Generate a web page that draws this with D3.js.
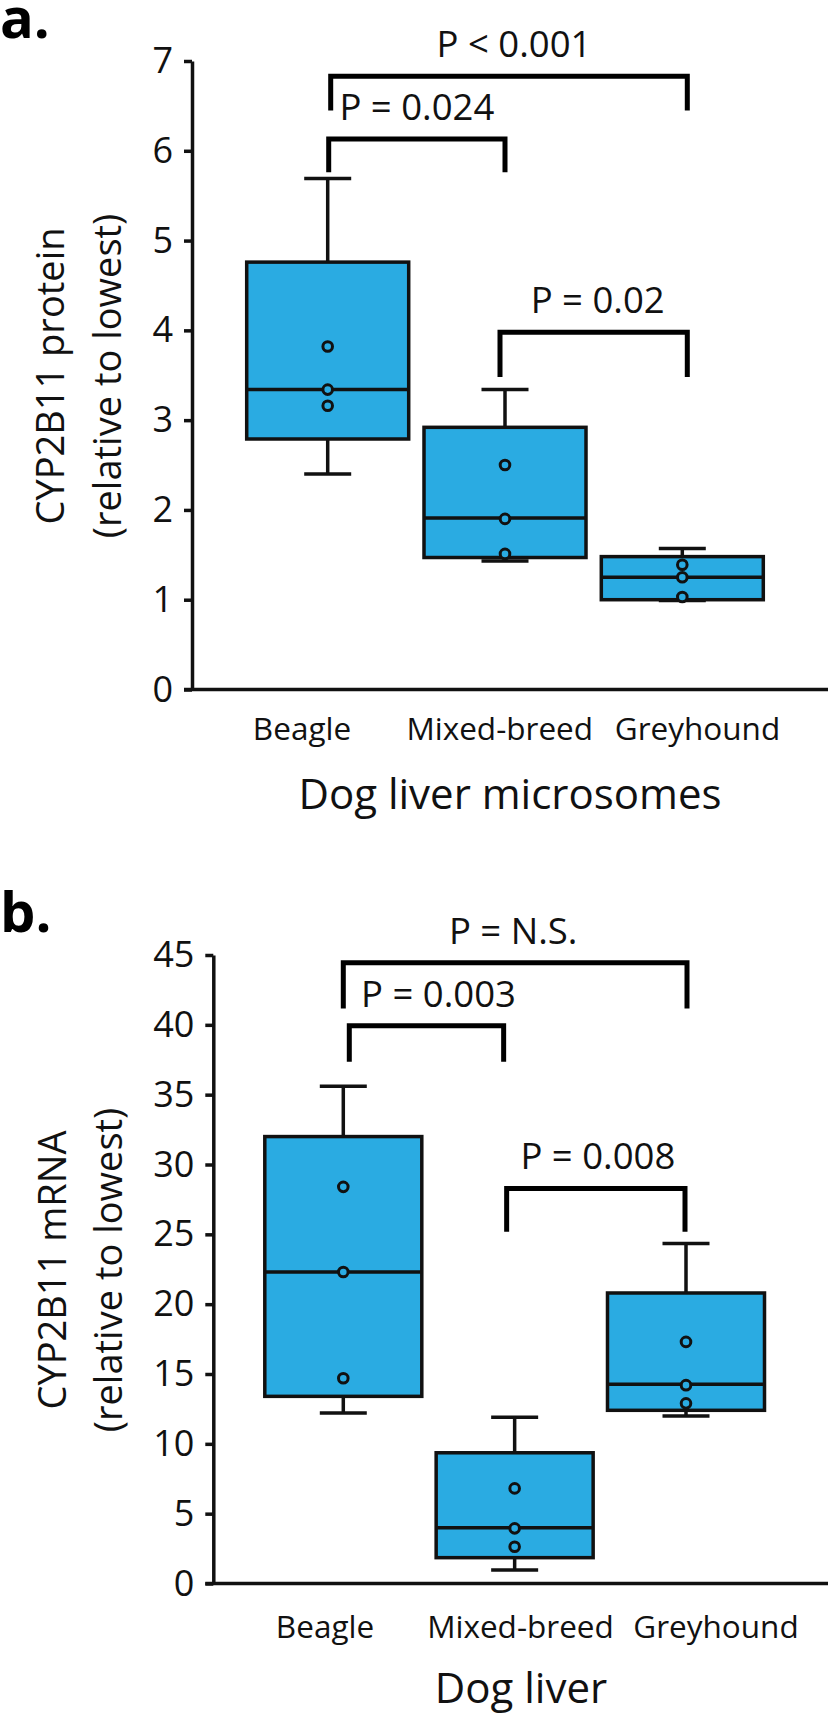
<!DOCTYPE html>
<html>
<head>
<meta charset="utf-8">
<script src="https://cdn.jsdelivr.net/npm/d3@7"></script>
<style>
  body { margin: 0; background: #fff; }
  svg { display: block; font-family: "Open Sans", sans-serif; }
</style>
</head>
<body>
<div class="chart"></div>
<script>
// page size
var svgW = 828;
var svgH = 1715;

// categories
var breeds = ["Beagle", "Mixed-breed", "Greyhound"];

// panel a - protein (box stats)
var proteinMin = [2.40, 1.43, 0.99];
var proteinQ1 = [2.79, 1.47, 1.00];
var proteinMedian = [3.34, 1.91, 1.25];
var proteinQ3 = [4.76, 2.92, 1.48];
var proteinMax = [5.69, 3.34, 1.57];
var proteinPoints = [[3.82, 3.34, 3.16], [2.50, 1.90, 1.51], [1.39, 1.25, 1.03]];
var proteinTicks = [0, 1, 2, 3, 4, 5, 6, 7];
var proteinPairs = [["Beagle", "Greyhound"], ["Beagle", "Mixed-breed"], ["Mixed-breed", "Greyhound"]];
var proteinP = ["P < 0.001", "P = 0.024", "P = 0.02"];

// panel b - mRNA
var mrnaMin = [12.2, 0.97, 12.0];
var mrnaQ1 = [13.4, 1.85, 12.4];
var mrnaMedian = [22.3, 3.99, 14.26];
var mrnaQ3 = [32.0, 9.36, 20.8];
var mrnaMax = [35.6, 11.9, 24.35];
var mrnaPoints = [[28.4, 22.3, 14.7], [6.81, 3.95, 2.63], [17.3, 14.2, 12.9]];
var mrnaTicks = [0, 5, 10, 15, 20, 25, 30, 35, 40, 45];
var mrnaPairs = [["Beagle", "Greyhound"], ["Beagle", "Mixed-breed"], ["Mixed-breed", "Greyhound"]];
var mrnaP = ["P = N.S.", "P = 0.003", "P = 0.008"];

var boxColor = "#2aabe2";

// layout of each panel
var panels = [
  {
    letter: "a.", letterY: 38,
    min: proteinMin, q1: proteinQ1, med: proteinMedian, q3: proteinQ3, max: proteinMax,
    points: proteinPoints, ticks: proteinTicks, pairs: proteinPairs, pLabels: proteinP,
    yDomain: [0, 7], yRange: [689.5, 61], axisX: 192,
    centers: [327.7, 682.3], boxW: 162,
    labelRange: [302, 697.5], labelY: 740,
    yTitle: ["CYP2B11 protein", "(relative to lowest)"], yTitleX: [64, 121], yTitleY: 376,
    xTitle: "Dog liver microsomes", xTitleX: 510, xTitleY: 809,
    // bracket bar height, leg end (data units), leg x nudges, label nudge
    brackets: [
      {top: 6.83, leg: 6.45, dx: [3, 5], ldx: 5},
      {top: 6.13, leg: 5.76, dx: [1, 0], ldx: 0},
      {top: 3.98, leg: 3.48, dx: [-5, 5], ldx: 4}
    ]
  },
  {
    letter: "b.", letterY: 932,
    min: mrnaMin, q1: mrnaQ1, med: mrnaMedian, q3: mrnaQ3, max: mrnaMax,
    points: mrnaPoints, ticks: mrnaTicks, pairs: mrnaPairs, pLabels: mrnaP,
    yDomain: [0, 45], yRange: [1583.5, 955], axisX: 213.3,
    centers: [343.3, 686], boxW: 157,
    labelRange: [325, 716], labelY: 1638,
    yTitle: ["CYP2B11 mRNA", "(relative to lowest)"], yTitleX: [66, 122], yTitleY: 1270,
    xTitle: "Dog liver", xTitleX: 521, xTitleY: 1703,
    brackets: [
      {top: 44.44, leg: 41.17, dx: [0, 1], ldx: -2},
      {top: 39.93, leg: 37.35, dx: [6, -11], ldx: 12},
      {top: 28.29, leg: 25.18, dx: [-8, -1], ldx: 2}
    ]
  }
];

var svg = d3.select(".chart")
  .append("svg")
  .attr("width", svgW)
  .attr("height", svgH);

panels.forEach(function(p) {
  var g = svg.append("g");
  var y = d3.scaleLinear().domain(p.yDomain).range(p.yRange);
  var x = d3.scalePoint().domain(breeds).range(p.centers);
  var xLab = d3.scalePoint().domain(breeds).range(p.labelRange);

  // panel letter
  g.append("text")
    .attr("x", 0)
    .attr("y", p.letterY)
    .attr("font-size", 56)
    .attr("font-weight", "bold")
    .attr("fill", "#000")
    .text(p.letter);

  // y axis
  var yAxis = d3.axisLeft(y)
    .tickValues(p.ticks)
    .tickFormat(d3.format("d"))
    .tickSize(8)
    .tickSizeOuter(0)
    .tickPadding(11);
  var ax = g.append("g")
    .attr("transform", "translate(" + p.axisX + ",0)")
    .call(yAxis);
  ax.select(".domain").attr("stroke", "#111").attr("stroke-width", 3.5);
  ax.selectAll(".tick line").attr("stroke", "#111").attr("stroke-width", 3.5);
  ax.selectAll(".tick text")
    .attr("font-family", "Open Sans")
    .attr("font-size", 36)
    .attr("fill", "#111");

  // x axis line
  g.append("line")
    .attr("x1", p.axisX - 8)
    .attr("x2", svgW)
    .attr("y1", y(0))
    .attr("y2", y(0))
    .attr("stroke", "#111")
    .attr("stroke-width", 3.5);

  var rows = breeds.map(function(b, i) {
    return {name: b, min: p.min[i], q1: p.q1[i], med: p.med[i], q3: p.q3[i], max: p.max[i], pts: p.points[i]};
  });

  var box = g.selectAll(".box")
    .data(rows)
    .enter().append("g")
    .attr("class", "box");

  // whiskers
  box.append("line")
    .attr("x1", function(d) { return x(d.name); })
    .attr("x2", function(d) { return x(d.name); })
    .attr("y1", function(d) { return y(d.max); })
    .attr("y2", function(d) { return y(d.min); })
    .attr("stroke", "#111")
    .attr("stroke-width", 3.5);
  ["max", "min"].forEach(function(k) {
    box.append("line")
      .attr("x1", function(d) { return x(d.name) - 23.5; })
      .attr("x2", function(d) { return x(d.name) + 23.5; })
      .attr("y1", function(d) { return y(d[k]); })
      .attr("y2", function(d) { return y(d[k]); })
      .attr("stroke", "#111")
      .attr("stroke-width", 3.5);
  });

  // boxes
  box.append("rect")
    .attr("x", function(d) { return x(d.name) - p.boxW / 2; })
    .attr("y", function(d) { return y(d.q3); })
    .attr("width", p.boxW)
    .attr("height", function(d) { return y(d.q1) - y(d.q3); })
    .attr("fill", boxColor)
    .attr("stroke", "#111")
    .attr("stroke-width", 3.5);

  // median
  box.append("line")
    .attr("x1", function(d) { return x(d.name) - p.boxW / 2; })
    .attr("x2", function(d) { return x(d.name) + p.boxW / 2; })
    .attr("y1", function(d) { return y(d.med); })
    .attr("y2", function(d) { return y(d.med); })
    .attr("stroke", "#111")
    .attr("stroke-width", 3.5);

  // individual dogs
  box.selectAll("circle")
    .data(function(d) { return d.pts.map(function(v) { return {name: d.name, v: v}; }); })
    .enter().append("circle")
    .attr("cx", function(d) { return x(d.name); })
    .attr("cy", function(d) { return y(d.v); })
    .attr("r", 4.8)
    .attr("fill", boxColor)
    .attr("stroke", "#111")
    .attr("stroke-width", 3);

  // category labels
  g.selectAll(".cat")
    .data(breeds)
    .enter().append("text")
    .attr("class", "cat")
    .attr("x", function(d) { return xLab(d); })
    .attr("y", p.labelY)
    .attr("text-anchor", "middle")
    .attr("font-size", 31.5)
    .attr("fill", "#111")
    .text(function(d) { return d; });

  // x title
  g.append("text")
    .attr("x", p.xTitleX)
    .attr("y", p.xTitleY)
    .attr("text-anchor", "middle")
    .attr("font-size", 42)
    .attr("fill", "#111")
    .text(p.xTitle);

  // y title, two lines
  p.yTitle.forEach(function(t, i) {
    g.append("text")
      .attr("transform", "translate(" + p.yTitleX[i] + "," + p.yTitleY + ") rotate(-90)")
      .attr("text-anchor", "middle")
      .attr("font-size", 38)
      .attr("fill", "#111")
      .text(t);
  });

  // significance brackets
  p.pairs.forEach(function(pair, i) {
    var b = p.brackets[i];
    var x1 = x(pair[0]) + b.dx[0];
    var x2 = x(pair[1]) + b.dx[1];
    g.append("path")
      .attr("d", "M" + x1 + "," + y(b.leg) + "V" + y(b.top) + "H" + x2 + "V" + y(b.leg))
      .attr("fill", "none")
      .attr("stroke", "#000")
      .attr("stroke-width", 5);
    g.append("text")
      .attr("x", (x1 + x2) / 2 + b.ldx)
      .attr("y", y(b.top) - 19)
      .attr("text-anchor", "middle")
      .attr("font-size", 36.5)
      .attr("fill", "#111")
      .text(p.pLabels[i]);
  });
});
</script>
</body>
</html>
